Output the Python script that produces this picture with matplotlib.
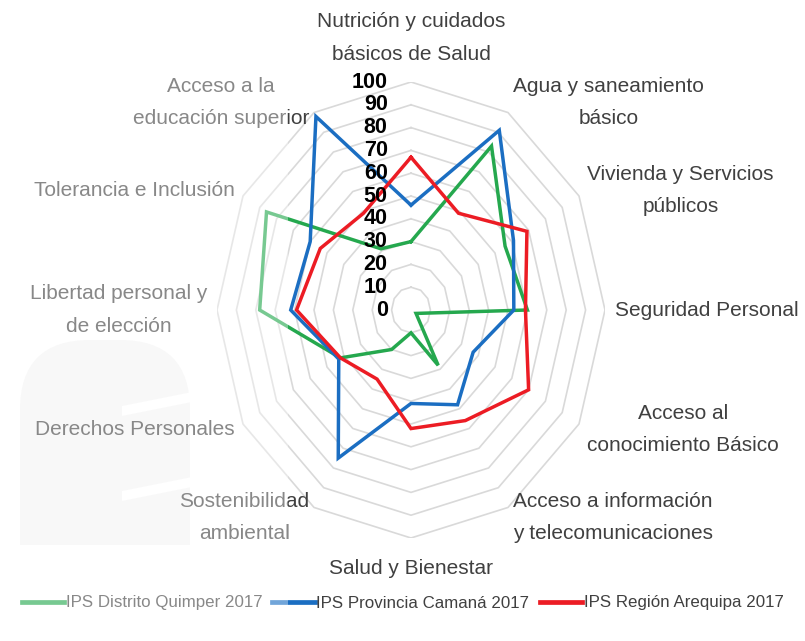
import numpy as np
import matplotlib.pyplot as plt
from matplotlib.patches import Rectangle, FancyBboxPatch, Polygon
from matplotlib.transforms import IdentityTransform

plt.rcParams['font.family'] = ['Liberation Sans', 'DejaVu Sans']

# --- datos ---
categorias = [
    "Nutrición y cuidados\nbásicos de Salud",
    "Agua y saneamiento\nbásico",
    "Vivienda y Servicios\npúblicos",
    "Seguridad Personal",
    "Acceso al\nconocimiento Básico",
    "Acceso a información\ny telecomunicaciones",
    "Salud y Bienestar",
    "Sostenibilidad\nambiental",
    "Derechos Personales",
    "Libertad personal y\nde elección",
    "Tolerancia e Inclusión",
    "Acceso a la\neducación superior",
]
quimper = [30, 83, 56, 60, 3, 28, 10, 20, 42, 78, 86, 31]
camana = [46, 91, 61, 53, 37, 48, 41, 75, 43, 62, 60, 98]
arequipa = [67, 49, 69, 59, 70, 56, 52, 35, 42, 59, 54, 49]
series = ["IPS Distrito Quimper 2017", "IPS Provincia Camaná 2017", "IPS Región Arequipa 2017"]
niveles = list(range(0, 101, 10))

colores = ['#25a84e', '#1b6ec2', '#ec1c24']

n = len(categorias)
ang = np.deg2rad(90 - 360 / n * np.arange(n))
cx, cy = np.cos(ang), np.sin(ang)

fig = plt.figure(figsize=(8.05, 6.41), dpi=100)
W, H = 805, 641
px = IdentityTransform()

# marca de agua tenue del fondo (izquierda), en pixeles
fig.add_artist(FancyBboxPatch((20, 96), 170, 205, boxstyle='round,pad=0,rounding_size=70',
                              transform=px, fc='#f4f4f4', ec='none', zorder=-5))
fig.add_artist(Rectangle((20, 96), 170, 100, transform=px, fc='#f4f4f4', ec='none', zorder=-5))
for y0 in (225, 140):
    fig.add_artist(Polygon([(122, y0), (192, y0 + 14), (192, y0 + 24), (122, y0 + 10)],
                           closed=True, transform=px, fc='white', ec='none', zorder=-4))

# el grafico original esta un poco comprimido en horizontal
ax = fig.add_axes([217 / W, 103 / H, 388 / W, 456 / H])
ax.patch.set_alpha(0)
ax.set_xlim(-100, 100)
ax.set_ylim(-100, 100)
ax.axis('off')

# rejilla poligonal
for nv in niveles[1:]:
    ax.plot(np.append(nv * cx, nv * cx[0]), np.append(nv * cy, nv * cy[0]),
            color='#d9d9d9', lw=1.2, zorder=1)

# series
for vals, col, nom in zip([quimper, camana, arequipa], colores, series):
    v = np.array(vals + vals[:1], dtype=float)
    ax.plot(v * np.append(cx, cx[0]), v * np.append(cy, cy[0]), color=col,
            lw=2.5, solid_joinstyle='miter', label=nom, zorder=3)

# etiquetas del eje
for nv in niveles:
    ax.text(-12, nv, str(nv), ha='right', va='center', fontsize=15.5,
            fontweight='bold', color='black', zorder=4)

# etiquetas de categorias
for lab, a, x, y in zip(categorias, ang, cx, cy):
    if abs(x) < 0.01:
        ha = 'center'
        if y > 0:
            va, r_lab = 'bottom', 108
        else:
            va, r_lab = 'top', 109
    else:
        ha = 'left' if x > 0 else 'right'
        va, r_lab = 'center', 105
    ax.text(r_lab * x, r_lab * y, lab, ha=ha, va=va, ma='center', fontsize=15,
            color='#404040', linespacing=1.9, clip_on=False)

leg = fig.legend(loc='center', bbox_to_anchor=(0.5, 1 - 603 / H), ncol=3, frameon=False,
                 fontsize=12.2, handlelength=2.5, handletextpad=0.1, columnspacing=0.6)
for h in leg.get_lines():
    h.set_linewidth(3.4)
for t in leg.get_texts():
    t.set_color('#404040')

# velo blanco de la imagen original en la parte izquierda
fig.add_artist(Rectangle((0, 0), 288 / W, 1, transform=fig.transFigure,
                         color='white', alpha=0.38, lw=0, zorder=10))

plt.savefig('out.png', dpi=100)
